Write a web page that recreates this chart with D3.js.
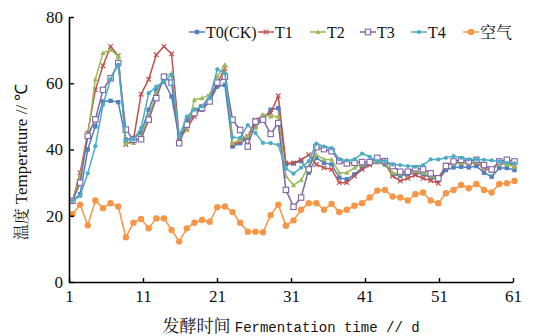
<!DOCTYPE html>
<html>
<head>
<meta charset="utf-8">
<script src="https://cdn.jsdelivr.net/npm/d3@7/dist/d3.min.js"></script>
<style>
  body { margin: 0; background: #fff; }
</style>
</head>
<body>
<svg id="chart" width="534" height="336"></svg>
<script>
// sampling days (59 measurements) and axis ticks
const days = d3.range(1, 60)
const xTicks = [1, 11, 21, 31, 41, 51, 61]
const yTicks = [0, 20, 40, 60, 80]

const seriesNames = ['T0(CK)', 'T1', 'T2', 'T3', 'T4', '空气']

// temperature values (°C)
const t0 = [24.5, 26.5, 40, 47, 54.5, 54.7, 54.3, 43, 43.5, 45,
  52, 58, 60.5, 56, 43.5, 48.9, 52, 52, 54.5, 59,
  59.5, 40.9, 41.9, 43.5, 47, 49, 52, 52.5, 35.5, 35.8,
  36.5, 33, 37.5, 36, 35.5, 31.5, 31, 32.5, 34.5, 35.8,
  36.2, 35.5, 32.5, 32, 32.5, 33, 32.5, 31.5, 30.8, 33.8,
  34.6, 34.8, 34.6, 35, 33, 31.8, 34.4, 34.4, 33.8]
const t1 = [24.5, 33, 45, 58, 65.3, 71.1, 68.3, 41.5, 43, 56.7,
  61.2, 68.6, 71.1, 68.9, 44, 46.5, 50, 53, 56, 60,
  64.5, 41.4, 42.5, 43.9, 48.9, 50, 51, 56.2, 35.9, 35.9,
  36.9, 38.4, 35.5, 34.5, 34, 30, 30, 32, 34, 35.3,
  36.4, 36, 32, 30.5, 31.3, 32.3, 31.3, 30.6, 29.8, 35.3,
  36, 36, 35.9, 36, 34.3, 33.6, 35.9, 36, 35.3]
const t2 = [24.5, 32, 44, 61.2, 69.1, 70.1, 68.1, 41.9, 42, 44,
  50, 57, 62, 63, 43.5, 45.9, 55, 55.5, 56.5, 62,
  65.6, 41.9, 42.9, 44, 46.5, 50.5, 50, 50, 32, 29.2,
  30.8, 35, 38.4, 37, 37, 33, 33, 34.5, 35.5, 36,
  36.4, 36, 33, 32.5, 33, 33.5, 33, 32, 31.3, 35.3,
  35.8, 35.9, 35.9, 36.2, 34.8, 33.6, 35.8, 35.5, 34.8]
const t3 = [24.5, 30, 44.1, 49.1, 58, 61.5, 66.1, 46, 42.9, 43.1,
  49, 55.5, 62, 60.2, 41.9, 47.5, 51, 52.5, 54.5, 60.2,
  62, 49, 45.9, 40.9, 48.4, 49, 44.7, 48, 27.8, 22.7,
  25.5, 34, 40.7, 40.1, 39.5, 36.5, 35.8, 36, 36.2, 36.2,
  37.5, 36.5, 35, 33.3, 33.3, 34.3, 34, 32.8, 31.3, 35,
  36.4, 36.9, 36.4, 36.9, 35.3, 34, 36.4, 36.9, 36.4]
const t4 = [24.5, 26, 32.8, 41, 53.5, 61.2, 65.6, 42.9, 43, 46.5,
  57, 59, 60.5, 62.5, 43.9, 49.9, 52, 53, 55.5, 64.2,
  63, 43.7, 43.5, 47.4, 45, 42, 41.9, 41.4, 34.2, 32.7,
  34.5, 36.5, 41.8, 40.9, 40.4, 37, 36.7, 37, 38.8, 37.8,
  36.5, 36.5, 35.5, 35.3, 35, 34.8, 35.3, 37, 37, 37.5,
  38, 37.5, 37, 37, 36.9, 36.7, 36.4, 36, 35.8]
const air = [20.5, 23.3, 17.1, 24.6, 22.3, 23.8, 22.8, 13.5, 17.9, 19.0,
  16.2, 19.2, 19.2, 15.7, 12.2, 16.2, 17.9, 18.7, 18.2, 22.6,
  22.8, 21.1, 17.9, 15.2, 15.2, 15.0, 20.2, 23.3, 17.0, 18.6,
  21.8, 23.8, 23.8, 21.8, 23.6, 21.1, 21.8, 23.0, 23.8, 25.5,
  27.6, 27.8, 25.8, 25.5, 24.6, 26.5, 27.0, 24.6, 23.8, 26.8,
  27.8, 29.3, 28.3, 29.6, 27.8, 27.0, 29.6, 29.8, 30.5]

const seriesValues = [t0, t1, t2, t3, t4, air]
const colors = ['#4F81BD', '#C0504D', '#9BBB59', '#8064A2', '#4BACC6', '#F79646']
const markers = ['square', 'cross', 'triangle', 'openSquare', 'dot', 'circle']

const plot = { left: 69, right: 513, top: 17, bottom: 282 }
const SERIF = 'Liberation Serif'
const CJK = 'Noto Serif CJK SC'
const MONO = 'Liberation Mono'

const svg = d3.select('#chart')

const x = d3.scaleLinear().domain([1, 61]).range([plot.left, plot.right])
// measurement points sit slightly inside the axis span
const xp = d3.scalePoint().domain(days).range([plot.left + 3.5, plot.right + 1.5])
const y = d3.scaleLinear().domain([0, 80]).range([plot.bottom, plot.top])

function drawMarker(g, type, color) {
  if (type === 'square') {
    g.append('rect').attr('x', -2.2).attr('y', -2.2).attr('width', 4.4).attr('height', 4.4).attr('fill', color)
  } else if (type === 'cross') {
    g.append('path').attr('d', 'M-2.3,-2.3L2.3,2.3M-2.3,2.3L2.3,-2.3').attr('stroke', color).attr('stroke-width', 1.2)
  } else if (type === 'triangle') {
    g.append('path').attr('d', 'M0,-2.8L2.6,2L-2.6,2Z').attr('fill', color)
  } else if (type === 'openSquare') {
    g.append('rect').attr('x', -2.7).attr('y', -2.7).attr('width', 5.4).attr('height', 5.4)
      .attr('fill', '#fff').attr('stroke', color).attr('stroke-width', 1.1)
  } else if (type === 'dot') {
    g.append('circle').attr('r', 2.1).attr('fill', color)
  } else {
    g.append('circle').attr('r', 3.2).attr('fill', color)
  }
}

// series
const line = d3.line().x((d, i) => xp(days[i])).y(d => y(d))
seriesValues.forEach((vals, s) => {
  const g = svg.append('g').attr('class', 'series')
  g.append('path')
    .attr('d', line(vals))
    .attr('fill', 'none')
    .attr('stroke', colors[s])
    .attr('stroke-width', 1.5)
    .attr('stroke-linejoin', 'round')
  vals.forEach((v, i) => {
    const m = g.append('g').attr('transform', `translate(${xp(days[i])},${y(v)})`)
    drawMarker(m, markers[s], colors[s])
  })
})

// axes
const xAxis = svg.append('g').attr('transform', `translate(0,${plot.bottom})`)
  .call(d3.axisBottom(x).tickValues(xTicks).tickSizeInner(-4).tickSizeOuter(0).tickPadding(11))
const yAxis = svg.append('g').attr('transform', `translate(${plot.left},0)`)
  .call(d3.axisLeft(y).tickValues(yTicks).tickSizeInner(-5).tickSizeOuter(0).tickPadding(6))

;[xAxis, yAxis].forEach(ax => {
  ax.attr('font-family', SERIF).attr('font-size', 17)
  ax.select('.domain').attr('stroke', '#000').attr('stroke-width', 1.6)
  ax.selectAll('.tick line').attr('stroke', '#000').attr('stroke-width', 1.4)
  ax.selectAll('.tick text').attr('fill', '#111')
})
xAxis.selectAll('.tick text').attr('dy', '0.55em')

// legend
const legendX = [189, 258, 310, 360, 411, 463]
const legendY = 32
seriesNames.forEach((name, s) => {
  const g = svg.append('g').attr('transform', `translate(${legendX[s]},${legendY})`)
  g.append('line').attr('x1', 0).attr('x2', 16).attr('stroke', colors[s]).attr('stroke-width', 1.5)
  drawMarker(g.append('g').attr('transform', 'translate(8,0)'), markers[s], colors[s])
  g.append('text').attr('x', 17).attr('dy', '0.35em')
    .attr('font-family', s === 5 ? CJK : SERIF).attr('font-size', 16).attr('fill', '#111')
    .text(name)
})

// axis titles
const xt = svg.append('text').attr('x', 291).attr('y', 332).attr('text-anchor', 'middle').attr('fill', '#111')
xt.append('tspan').attr('font-family', CJK).attr('font-size', 17).text('发酵时间 ')
xt.append('tspan').attr('font-family', MONO).attr('font-size', 14).text('Fermentation time // d')

const yt = svg.append('text').attr('transform', 'translate(27,162) rotate(-90)').attr('text-anchor', 'middle').attr('fill', '#111')
yt.append('tspan').attr('font-family', CJK).attr('font-size', 16).text('温度 ')
yt.append('tspan').attr('font-family', SERIF).attr('font-size', 17).text('Temperature // ℃')
</script>
</body>
</html>
